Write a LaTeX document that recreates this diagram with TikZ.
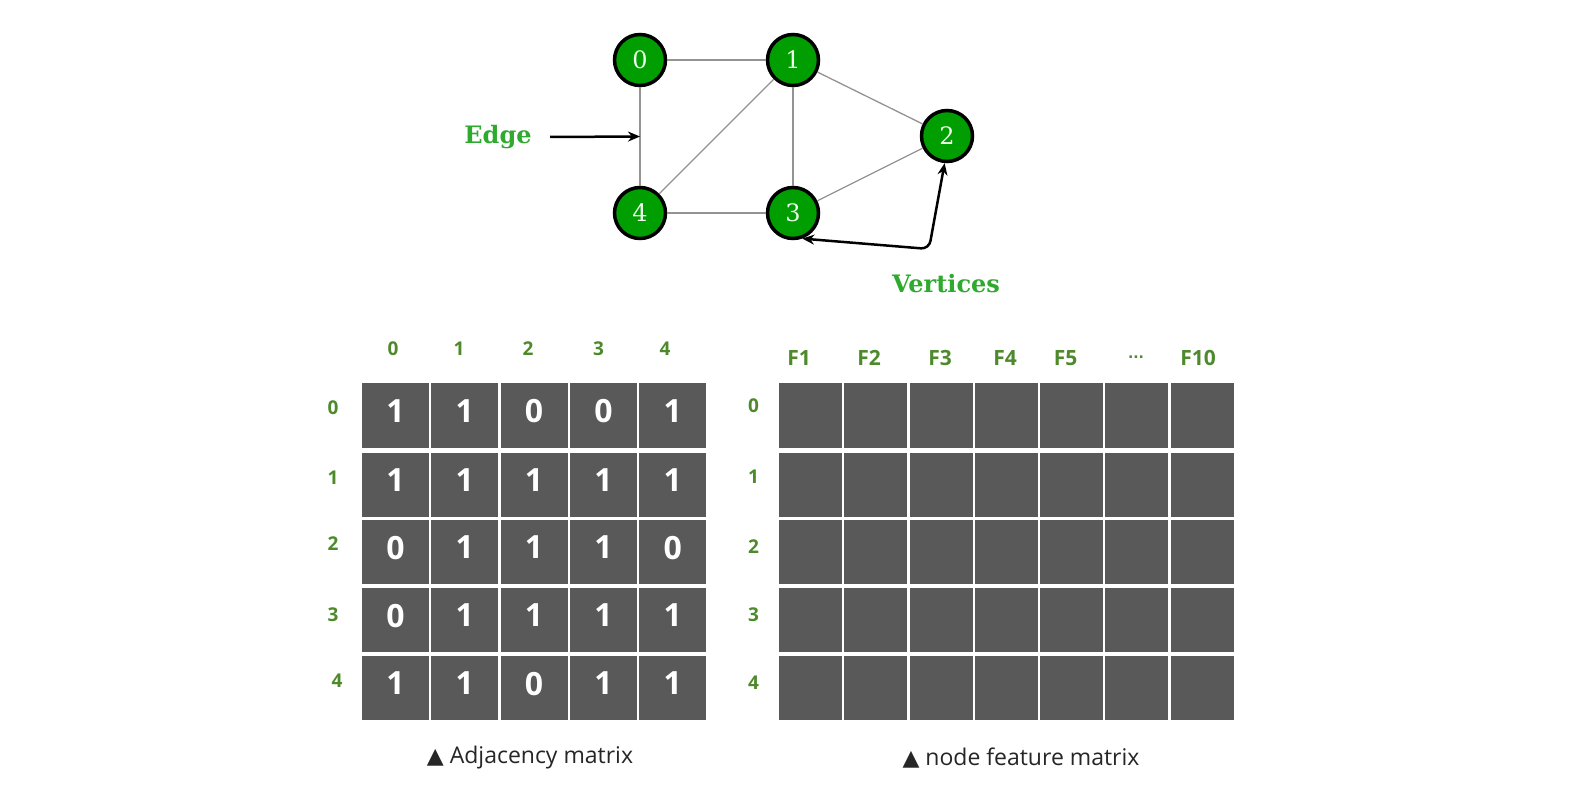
\documentclass[tikz,border=0pt]{standalone}
\usepackage{fontspec}
\setmainfont{DejaVu Serif}
\newfontfamily\cellfont{Open Sans}
\newfontfamily\symfont{DejaVu Sans}
\usetikzlibrary{arrows.meta,calc}
\definecolor{vgreen}{HTML}{009E00}
\definecolor{lblgreen}{HTML}{2EAA2E}
\definecolor{hdgreen}{HTML}{4E8A2C}
\definecolor{cellgray}{HTML}{595959}
\tikzset{
  vertex/.style={circle,draw=black,line width=3.5pt,fill=vgreen,minimum size=51pt,inner sep=0pt,
    text=green!8!white,font=\fontsize{24}{24}\selectfont},
  link/.style={draw=gray!85,line width=1.3pt},
  glabel/.style={text=lblgreen,font=\bfseries\fontsize{24}{24}\selectfont},
  pointer/.style={line width=2.5pt,arrows={-Stealth[length=12pt,width=10pt]}},
  acell/.style={rectangle,fill=cellgray,inner sep=0pt,minimum width=67pt,minimum height=64.5pt,
    text depth=9pt,text=white,font=\cellfont\bfseries\fontsize{32}{32}\selectfont},
  fcell/.style={rectangle,fill=cellgray,inner sep=0pt,minimum width=63pt,minimum height=64.5pt},
  hdr/.style={text=hdgreen,font=\cellfont\bfseries\fontsize{19}{19}\selectfont},
  fhdr/.style={hdr,font=\cellfont\bfseries\fontsize{21}{21}\selectfont},
  captext/.style={text=black!85,font=\cellfont\fontsize{23}{23}\selectfont}
}
\begin{document}
\begin{tikzpicture}[x=1pt,y=-1pt]
\useasboundingbox[fill=white] (0,0) rectangle (1588,810);
% graph
\node[vertex] (v0) at (640,60) {0};
\node[vertex] (v1) at (793,60) {1};
\node[vertex] (v2) at (947,136) {2};
\node[vertex] (v3) at (793,213) {3};
\node[vertex] (v4) at (640,213) {4};
\foreach \a/\b in {v0/v1,v0/v4,v1/v4,v1/v3,v1/v2,v2/v3,v4/v3}
  \draw[link] (\a) -- (\b);
\node[glabel] (edgelbl) at (498,137) {Edge};
\draw[pointer] ([xshift=15pt]edgelbl.east) -- ($(v0)!0.5!(v4)$);
\node[glabel] (vertlbl) at (946,284) {Vertices};
\coordinate (vbend) at (929,249);
\draw[pointer,arrows={Stealth[length=12pt,width=10pt]-Stealth[length=12pt,width=10pt]},rounded corners=8pt]
  (v3.-70) -- (vbend) -- (v2.-95);
% adjacency matrix
\foreach \x [count=\c from 0] in {393,459,528,598.5,665}
  \node[hdr] (acol\c) at (\x,349) {\c};
\foreach \y/\vals [count=\r from 0] in {415.5/{1,1,0,0,1},485/{1,1,1,1,1},552/{0,1,1,1,0},620/{0,1,1,1,1},688/{1,1,0,1,1}}{
  \foreach \v [count=\c from 0] in \vals
    \node[acell] (a-\r-\c) at (395.5+69.3*\c,\y) {\v};
}
\foreach \x/\y [count=\r from 0] in {333/408,333/478,333/544,333/615,337/681}
  \node[hdr] (arow\r) at (\x,\y) {\r};
% node feature matrix
\foreach \x/\t [count=\c from 0] in {799/F1,869/F2,940/F3,1005/F4,1065.5/F5,1136/{\symfont\fontsize{14}{14}\selectfont\raisebox{2pt}{...}},1198/F10}
  \node[fhdr] (fcol\c) at (\x,358) {\t};
\foreach \y [count=\r from 0] in {415.5,485,552,620,688}{
  \foreach \c in {0,...,6}
    \node[fcell] (f-\r-\c) at (810.4+65.3*\c,\y) {};
}
\foreach \y [count=\r from 0] in {406,477,547,615,683}
  \node[hdr] (frow\r) at (753.5,\y) {\r};
% captions
\node[captext] (adjcap) at (530,758) {{\symfont\fontsize{22}{22}\selectfont ▲} Adjacency matrix};
\node[captext] (featcap) at (1021,758) {{\symfont\fontsize{22}{22}\selectfont ▲} node feature matrix};
\end{tikzpicture}
\end{document}
